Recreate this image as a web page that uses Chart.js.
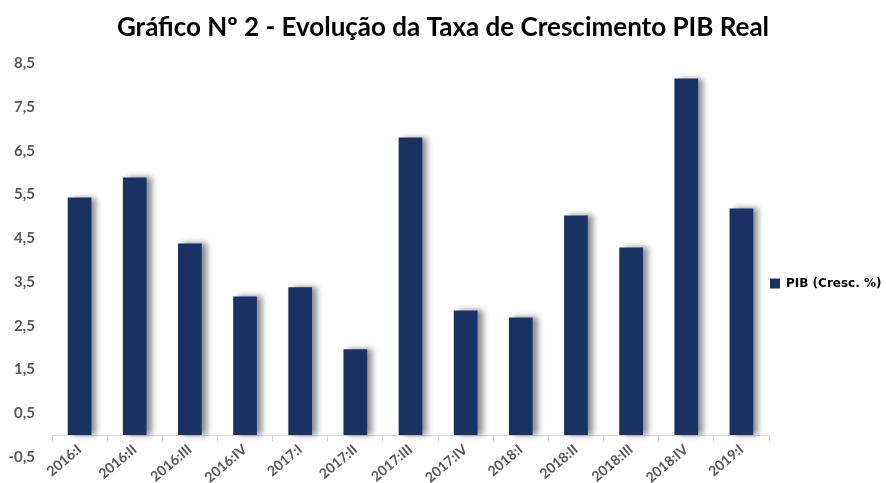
<!DOCTYPE html>
<html>
<head>
<meta charset="utf-8">
<script src="https://cdn.jsdelivr.net/npm/chart.js@4/dist/chart.umd.min.js"></script>
<style>
  html, body { margin: 0; padding: 0; background: #fff; }
  #wrap { width: 886px; height: 483px; }
</style>
</head>
<body>
<div id="wrap"><canvas id="pibChart" width="886" height="483"></canvas></div>
<script>
// Data
//==============================
var quarters = ["2016:I", "2016:II", "2016:III", "2016:IV", "2017:I", "2017:II", "2017:III",
  "2017:IV", "2018:I", "2018:II", "2018:III", "2018:IV", "2019:I"];
var pibGrowth = [5.43, 5.89, 4.38, 3.17, 3.38, 1.96, 6.80, 2.85, 2.69, 5.02, 4.29, 8.15, 5.18];
var yTicks = [-0.5, 0.5, 1.5, 2.5, 3.5, 4.5, 5.5, 6.5, 7.5, 8.5];

// soft shadow to the right of the bars
var barShadow = {
  id: "barShadow",
  beforeDatasetsDraw: function (chart) {
    var ctx = chart.ctx;
    ctx.save();
    ctx.shadowColor = "rgba(0, 0, 0, 0.45)";
    ctx.shadowOffsetX = 5;
    ctx.shadowOffsetY = 0;
    ctx.shadowBlur = 6;
  },
  afterDatasetsDraw: function (chart) {
    chart.ctx.restore();
  }
};

// Excel puts the legend a bit below the middle
var legendShift = {
  id: "legendShift",
  afterLayout: function (chart) {
    chart.legend.top += 55;
    chart.legend.bottom += 55;
  }
};

function barGradient(context) {
  var el = context.element;
  if (!el || el.width === undefined) {
    return "#1a3263";
  }
  var ctx = context.chart.ctx;
  var g = ctx.createLinearGradient(el.x - el.width / 2, 0, el.x + el.width / 2, 0);
  g.addColorStop(0, "#1e3a6e");
  g.addColorStop(1, "#0f1f40");
  return g;
}

var ctx = document.getElementById("pibChart");
var pibChart = new Chart(ctx, {
  type: "bar",
  data: {
    labels: quarters,
    datasets: [{
      label: "PIB (Cresc. %)",
      data: pibGrowth,
      backgroundColor: barGradient,
      borderWidth: 0,
      categoryPercentage: 1,
      barPercentage: 0.43
    }]
  },
  plugins: [barShadow, legendShift],
  options: {
    responsive: false,
    animation: false,
    layout: { padding: { left: 0, right: 0, top: 0, bottom: 26 } },
    plugins: {
      title: {
        display: true,
        text: "Gráfico Nº 2 - Evolução da Taxa de Crescimento PIB Real",
        color: "#000",
        font: { family: "Lato", size: 26, weight: "bold" },
        padding: { top: 12, bottom: 20 }
      },
      legend: {
        position: "right",
        maxWidth: 117,
        labels: {
          color: "#595959",
          font: { family: "DejaVu Sans", size: 12, weight: "bold" },
          boxWidth: 10,
          boxHeight: 10,
          padding: 1,
          generateLabels: function (chart) {
            return [{
              text: chart.data.datasets[0].label,
              fillStyle: "#1a3263",
              strokeStyle: "#1a3263",
              lineWidth: 0,
              datasetIndex: 0
            }];
          }
        }
      },
      tooltip: { enabled: false }
    },
    scales: {
      x: {
        position: { y: 0 },
        afterFit: function (axis) {
          axis.paddingLeft = 0;
          axis.paddingRight = 0;
        },
        grid: {
          display: true,
          drawOnChartArea: false,
          offset: true,
          color: "#d9d9d9",
          tickLength: 6
        },
        border: { display: true, color: "#d9d9d9", width: 1 },
        ticks: {
          color: "#595959",
          font: { family: "Lato", size: 14, weight: "bold" },
          minRotation: 40,
          maxRotation: 40,
          padding: 0
        }
      },
      y: {
        min: -0.5,
        max: 8.5,
        afterBuildTicks: function (axis) {
          axis.ticks = yTicks.map(function (v) { return { value: v }; });
        },
        afterFit: function (axis) {
          axis.width = 52;
        },
        grid: { display: false, drawTicks: false },
        border: { display: false },
        ticks: {
          color: "#595959",
          font: { family: "Lato", size: 15, weight: "bold" },
          padding: 17,
          callback: function (value) {
            return value.toFixed(1).replace(".", ",");
          }
        }
      }
    }
  }
});
</script>
</body>
</html>
